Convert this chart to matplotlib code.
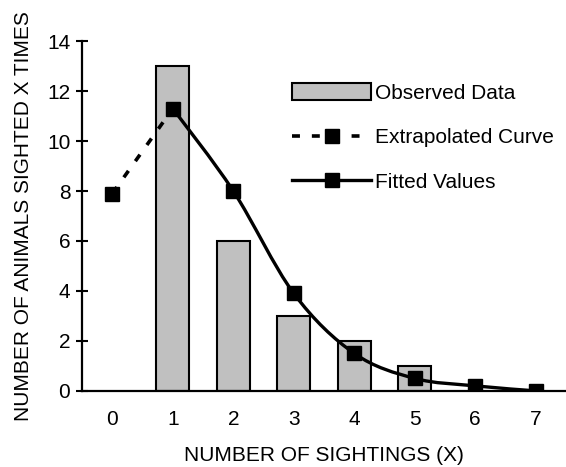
import numpy as np
import matplotlib
matplotlib.use('Agg')
import matplotlib.pyplot as plt
from matplotlib.path import Path
from matplotlib.patches import PathPatch, Patch
from matplotlib.lines import Line2D

plt.rcParams['font.family'] = ['Liberation Sans', 'DejaVu Sans']

# Dữ liệu
sightings = [0, 1, 2, 3, 4, 5, 6, 7]
observed_x = [1, 2, 3, 4, 5]
observed = [13, 6, 3, 2, 1]
fitted_x = [1, 2, 3, 4, 5, 6, 7]
fitted = [11.3, 8.0, 3.9, 1.5, 0.5, 0.2, 0.0]
extrap_x = [0, 1]
extrap = [7.9, 11.3]


def smooth_path(xs, ys, tension=1/6):
    """Đường cong Bezier qua các điểm (giống đường làm mượt của Excel)."""
    pts = np.column_stack([xs, ys]).astype(float)
    verts = [pts[0]]
    codes = [Path.MOVETO]
    n = len(pts)
    for i in range(n - 1):
        p0 = pts[i - 1] if i > 0 else pts[i]
        p1 = pts[i]
        p2 = pts[i + 1]
        p3 = pts[i + 2] if i + 2 < n else pts[i + 1]
        c1 = p1 + (p2 - p0) * tension
        c2 = p2 - (p3 - p1) * tension
        verts += [c1, c2, p2]
        codes += [Path.CURVE4] * 3
    return Path(verts, codes)


fig = plt.figure(figsize=(5.66, 4.67), dpi=100)
ax = fig.add_axes([0.145, 0.163, 0.855, 0.749])

ax.bar(observed_x, observed, width=0.55, color='#C0C0C0', edgecolor='black', linewidth=1.5, zorder=1)

# Đường fitted (làm mượt)
ax.add_patch(PathPatch(smooth_path(fitted_x, fitted), facecolor='none', edgecolor='black', lw=2.4, zorder=3))
ax.plot(fitted_x, fitted, ls='none', marker='s', ms=10, color='black', zorder=4)

# Đường ngoại suy
dash = (0, (2.2, 3.3))
ax.plot(extrap_x, extrap, ls=dash, lw=2.6, color='black', zorder=3)
ax.plot(extrap_x[:1], extrap[:1], ls='none', marker='s', ms=10, color='black', zorder=4)

ax.set_xlim(-0.5, 7.5)
ax.set_ylim(0, 14)
ax.set_xticks(sightings)
ax.set_yticks(range(0, 15, 2))
ax.tick_params(axis='x', length=0, pad=14, labelsize=15)
ax.tick_params(axis='y', direction='inout', length=9, width=1.5, pad=4, labelsize=15)
for s in ['top', 'right']:
    ax.spines[s].set_visible(False)
for s in ['left', 'bottom']:
    ax.spines[s].set_linewidth(1.6)

ax.set_xlabel('NUMBER OF SIGHTINGS (X)', fontsize=15, labelpad=12)
ax.set_ylabel('NUMBER OF ANIMALS SIGHTED X TIMES', fontsize=15, labelpad=10)

handles = [
    Patch(facecolor='#C0C0C0', edgecolor='black', linewidth=1.5),
    Line2D([], [], color='black', lw=2.6, ls=dash, marker='s', ms=10),
    Line2D([], [], color='black', lw=2.4, marker='s', ms=10),
]
ax.legend(handles, ['Observed Data', 'Extrapolated Curve', 'Fitted Values'],
          loc='upper left', bbox_to_anchor=(0.498, 0.845), bbox_transform=fig.transFigure,
          frameon=False, fontsize=15, handlelength=3.8, handleheight=0.9,
          handletextpad=0.15, labelspacing=1.2, borderpad=0)

fig.savefig('out.png', dpi=100)
